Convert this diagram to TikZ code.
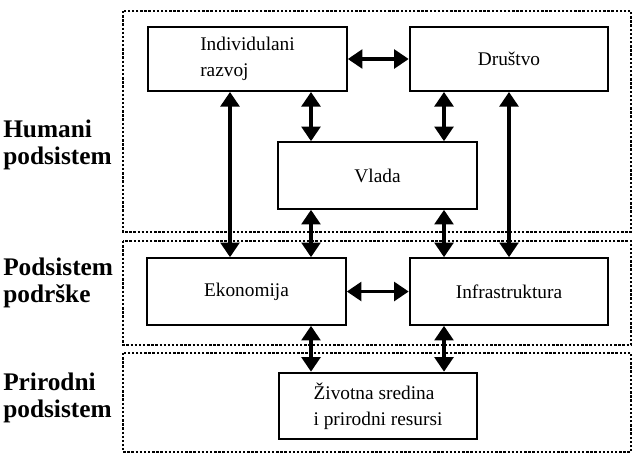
\documentclass[tikz,border=0pt]{standalone}
\usepackage{fontspec}
\setmainfont{Liberation Serif}
\usetikzlibrary{arrows.meta}
\tikzset{
	sysbox/.style={draw, line width=1.4pt, inner sep=0pt, minimum width=149pt, minimum height=50pt, align=left, font=\fontsize{14.5}{19.5}\selectfont},
	zone/.style={line width=1.6pt, dash pattern=on 1.8pt off 1.3pt},
	zonelabel/.style={anchor=west, align=left, inner sep=0pt, font=\fontsize{19}{20.5}\selectfont\bfseries},
	link/.style={line width=2.8pt, {Triangle[length=11pt,width=14pt]}-{Triangle[length=11pt,width=14pt]}}
}

\begin{document}
\begin{tikzpicture}[x=0.75pt, y=-0.75pt]
		%%%%% START %%%%%
		\useasboundingbox (0,0) rectangle (634,455);
		
		% subsystems
		\draw[zone] (123,11) rectangle (631,232);
		\draw[zone] (123,241) rectangle (631,345);
		\draw[zone] (123,353) rectangle (631,452);
		
		\node[zonelabel] (hum) at (3,145) {Humani\\podsistem};
		\node[zonelabel] (pod) at (3,283) {Podsistem\\podrške};
		\node[zonelabel] (pri) at (3,398) {Prirodni\\podsistem};
		
		% boxes
		\node[sysbox, minimum height=48pt] (ind) at (247.5,59) {Individulani\\razvoj};
		\node[sysbox, minimum height=48pt] (dru) at (509,59) {Društvo};
		\node[sysbox] (vla) at (377.5,175.5) {Vlada};
		\node[sysbox] (eko) at (246.5,291.5) {Ekonomija};
		\node[sysbox] (inf) at (509,291.5) {Infrastruktura};
		\node[sysbox] (ziv) at (378,406) {Životna sredina\\i prirodni resursi};
		
		% arrow columns
		\coordinate (cl) at (311,0);
		\coordinate (cr) at (444,0);
		\coordinate (fl) at (230,0);
		
		\draw[link] (ind) -- (dru);
		\draw[link] (ind.south -| cl) -- (vla.north -| cl);
		\draw[link] (dru.south -| cr) -- (vla.north -| cr);
		\draw[link] (ind.south -| fl) -- (eko.north -| fl);
		\draw[link] (dru.south) -- (inf.north);
		\draw[link] (vla.south -| cl) -- (eko.north -| cl);
		\draw[link] (vla.south -| cr) -- (inf.north -| cr);
		\draw[link] (eko) -- (inf);
		\draw[link] (eko.south -| cl) -- (ziv.north -| cl);
		\draw[link] (inf.south -| cr) -- (ziv.north -| cr);
		%%%%% END %%%%%
\end{tikzpicture}
\end{document}
